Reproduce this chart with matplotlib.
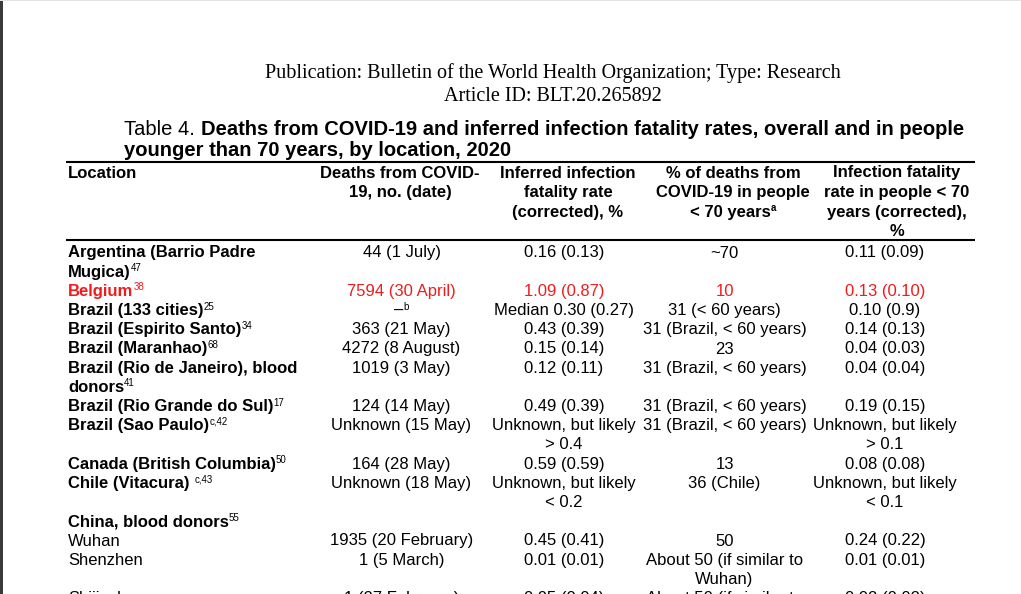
import matplotlib
matplotlib.use("Agg")
import matplotlib.pyplot as plt
from matplotlib.patches import Rectangle

# ---------------- data ----------------
publication = "Publication: Bulletin of the World Health Organization; Type: Research"
article_id = "Article ID: BLT.20.265892"
title_prefix = "Table 4. "
title_bold_1 = "Deaths from COVID-19 and inferred infection fatality rates, overall and in people"
title_bold_2 = "younger than 70 years, by location, 2020"

header_location = [("Location", "")]
header_deaths = [("Deaths from COVID-", ""), ("19, no. (date)", "")]
header_ifr = [("Inferred infection", ""), ("fatality rate", ""), ("(corrected), %", "")]
header_pct70 = [("% of deaths from", ""), ("COVID-19 in people", ""), ("< 70 years", "a")]
header_ifr70 = [("Infection fatality", ""), ("rate in people < 70", ""),
                ("years (corrected),", ""), ("%", "")]

locations = [
    [("Argentina (Barrio Padre", ""), ("Mugica)", "47")],
    [("Belgium", "38")],
    [("Brazil (133 cities)", "25")],
    [("Brazil (Espirito Santo)", "34")],
    [("Brazil (Maranhao)", "68")],
    [("Brazil (Rio de Janeiro), blood", ""), ("donors", "41")],
    [("Brazil (Rio Grande do Sul)", "17")],
    [("Brazil (Sao Paulo)", "c,42")],
    [("Canada (British Columbia)", "50")],
    [("Chile (Vitacura) ", "c,43")],
    [("China, blood donors", "55")],
    [("Wuhan", "")],
    [("Shenzhen", "")],
    [("Shijiazhuang", "")],
]
location_bold = [True] * 11 + [False] * 3
highlight = [False, True] + [False] * 12

deaths = [["44 (1 July)"], ["7594 (30 April)"], [("\u2013", "b")], ["363 (21 May)"],
          ["4272 (8 August)"], ["1019 (3 May)"], ["124 (14 May)"], ["Unknown (15 May)"],
          ["164 (28 May)"], ["Unknown (18 May)"], [], ["1935 (20 February)"],
          ["1 (5 March)"], ["1 (27 February)"]]
ifr = [["0.16 (0.13)"], ["1.09 (0.87)"], ["Median 0.30 (0.27)"], ["0.43 (0.39)"],
       ["0.15 (0.14)"], ["0.12 (0.11)"], ["0.49 (0.39)"], ["Unknown, but likely", "> 0.4"],
       ["0.59 (0.59)"], ["Unknown, but likely", "< 0.2"], [], ["0.45 (0.41)"],
       ["0.01 (0.01)"], ["0.05 (0.04)"]]
pct70 = [["~70"], ["10"], ["31 (< 60 years)"], ["31 (Brazil, < 60 years)"], ["23"],
         ["31 (Brazil, < 60 years)"], ["31 (Brazil, < 60 years)"], ["31 (Brazil, < 60 years)"],
         ["13"], ["36 (Chile)"], [], ["50"], ["About 50 (if similar to", "Wuhan)"],
         ["About 50 (if similar to", "Wuhan)"]]
ifr70 = [["0.11 (0.09)"], ["0.13 (0.10)"], ["0.10 (0.9)"], ["0.14 (0.13)"], ["0.04 (0.03)"],
         ["0.04 (0.04)"], ["0.19 (0.15)"], ["Unknown, but likely", "> 0.1"], ["0.08 (0.08)"],
         ["Unknown, but likely", "< 0.1"], [], ["0.24 (0.22)"], ["0.01 (0.01)"],
         ["0.02 (0.02)"]]

# ---------------- layout ----------------
W, H = 1021, 594
SANS = "Liberation Sans"
SERIF = "Liberation Serif"
BODY = 12
SUP = 7
SUP_RAISE = 5.5
SUP_GAP = 0
RED = "#ee1c1c"

fig = plt.figure(figsize=(W / 100, H / 100), dpi=100)
ax = fig.add_axes([0, 0, 1, 1])
ax.set_xlim(0, W)
ax.set_ylim(H, 0)
ax.axis("off")
renderer = fig.canvas.get_renderer()


def text_width(s, size, weight, family=SANS):
    if not s:
        return 0.0
    t = ax.text(0, 0, s, fontsize=size, fontweight=weight, family=family)
    w = t.get_window_extent(renderer).width
    t.remove()
    return w


def put(x, y, item, weight="normal", color="black", ha="left", size=BODY, family=SANS,
        sup_weight="normal"):
    if isinstance(item, tuple):
        s, sup = item
    else:
        s, sup = item, ""
    w = text_width(s, size, weight, family)
    ws = text_width(sup, SUP, sup_weight, family) + (SUP_GAP if sup else 0)
    x0 = x - (w + ws) / 2 if ha == "center" else x
    ax.text(x0, y, s, fontsize=size, fontweight=weight, family=family, color=color,
            ha="left", va="baseline")
    if sup:
        ax.text(x0 + w + SUP_GAP, y - SUP_RAISE, sup, fontsize=SUP, fontweight=sup_weight,
                family=family, color=color, ha="left", va="baseline")


def fit_size(s, weight, family, target):
    return 12 * target / text_width(s, 12, weight, family)


# viewer frame
ax.add_patch(Rectangle((0, 0), 3, H, color="#3a3a3a", lw=0))
ax.add_patch(Rectangle((0, 0), W, 1, color="#e4e4e4", lw=0))

# publication header (serif)
pub_size = fit_size(publication, "normal", SERIF, 574)
put(553, 78, publication, size=pub_size, family=SERIF, ha="center")
put(553, 101, article_id, size=pub_size, family=SERIF, ha="center")

# title
w12 = text_width(title_prefix, 12, "normal") + text_width(title_bold_1, 12, "bold")
t_size = 12 * 834 / w12
wp = text_width(title_prefix, t_size, "normal")
put(124, 135, title_prefix, size=t_size)
put(124 + wp, 135, title_bold_1, size=t_size, weight="bold")
put(124, 156.5, title_bold_2, size=t_size, weight="bold")

# rules
for yy in (162, 240):
    ax.plot([66, 975], [yy, yy], color="black", lw=1.5, solid_capstyle="butt")

# header
HDR_BASE, HDR_STEP = 177.5, 19.6
hdr_cols = [(68, "left", header_location), (400, "center", header_deaths),
            (568, "center", header_ifr), (733, "center", header_pct70),
            (897, "center", header_ifr70)]
for x, ha, lines in hdr_cols:
    for i, ln in enumerate(lines):
        put(x, HDR_BASE + i * HDR_STEP, ln, weight="bold", ha=ha, sup_weight="bold")

# body
ROW_BASE, ROW_STEP = 257.5, 19.2
data_cols = [(401.5, deaths), (564, ifr), (724.5, pct70), (885, ifr70)]
line = 0
for r in range(len(locations)):
    color = RED if highlight[r] else "black"
    y0 = ROW_BASE + line * ROW_STEP
    for i, ln in enumerate(locations[r]):
        put(68, y0 + i * ROW_STEP, ln, weight="bold" if location_bold[r] else "normal",
            color=color)
    n = len(locations[r])
    for x, col in data_cols:
        for i, ln in enumerate(col[r]):
            put(x, y0 + i * ROW_STEP, ln, color=color, ha="center")
        n = max(n, len(col[r]))
    line += n

fig.savefig("out.png", dpi=100, facecolor="white")
